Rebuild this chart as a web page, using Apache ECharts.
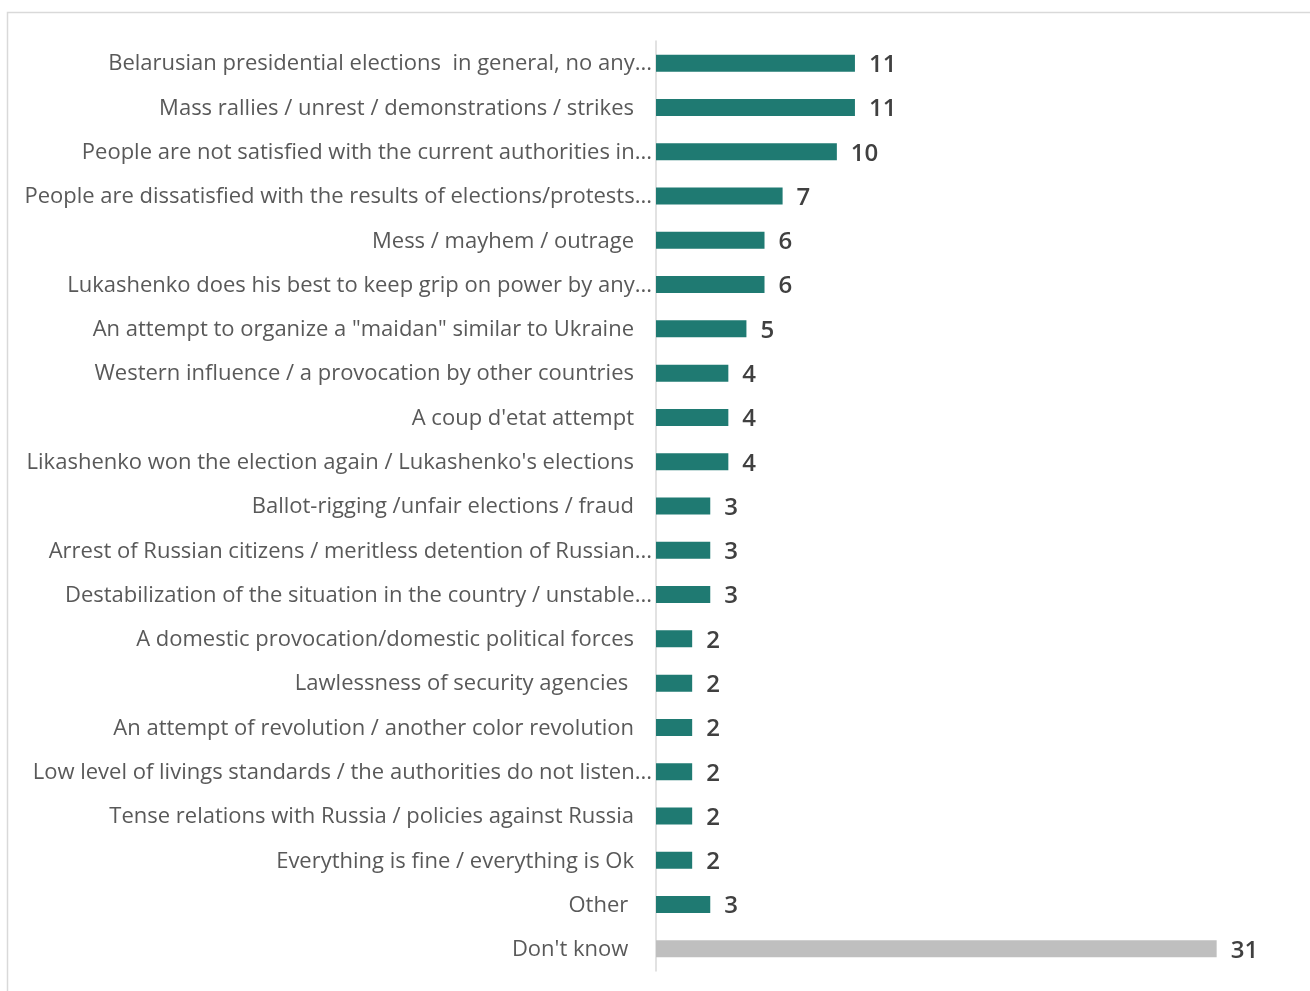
<!DOCTYPE html>
<html>
<head>
<meta charset="utf-8">
<script src="https://cdn.jsdelivr.net/npm/echarts@6/dist/echarts.min.js"></script>
<style>
  html, body { margin: 0; padding: 0; background: #fff; }
  #chart { width: 1310px; height: 991px; }
</style>
</head>
<body>
<div id="chart"></div>
<script>
// Answers, top to bottom (long answers are shortened with "...")
const categories = [
  "Belarusian presidential elections  in general, no any...",
  "Mass rallies / unrest / demonstrations / strikes",
  "People are not satisfied with the current authorities in...",
  "People are dissatisfied with the results of elections/protests...",
  "Mess / mayhem / outrage",
  "Lukashenko does his best to keep grip on power by any...",
  "An attempt to organize a \"maidan\" similar to Ukraine",
  "Western influence / a provocation by other countries",
  "A coup d'etat attempt",
  "Likashenko won the election again / Lukashenko's elections",
  "Ballot-rigging /unfair elections / fraud",
  "Arrest of Russian citizens / meritless detention of Russian...",
  "Destabilization of the situation in the country / unstable...",
  "A domestic provocation/domestic political forces",
  "Lawlessness of security agencies ",
  "An attempt of revolution / another color revolution",
  "Low level of livings standards / the authorities do not listen...",
  "Tense relations with Russia / policies against Russia",
  "Everything is fine / everything is Ok",
  "Other ",
  "Don't know "
];
const values = [11, 11, 10, 7, 6, 6, 5, 4, 4, 4, 3, 3, 3, 2, 2, 2, 2, 2, 2, 3, 31];
const highlightCategory = "Don't know ";

const TEAL = '#1F7A72';
const GREY = '#BFBFBF';
const FONT = '"Open Sans", "Liberation Sans", Arial, sans-serif';

const chart = echarts.init(document.getElementById('chart'), null, { renderer: 'canvas' });

chart.setOption({
  animation: false,
  backgroundColor: '#fff',
  graphic: [{
    type: 'rect',
    shape: { x: 7.5, y: 12.5, width: 1320, height: 1000 },
    style: { fill: 'none', stroke: '#D9D9D9', lineWidth: 1.5 },
    silent: true
  }],
  grid: { left: 656, right: 21, top: 41, bottom: 20, containLabel: false },
  xAxis: {
    type: 'value',
    min: 0,
    max: 35,
    show: false
  },
  yAxis: {
    type: 'category',
    data: categories,
    inverse: true,
    axisLine: { show: true, lineStyle: { color: '#D9D9D9', width: 1.5 } },
    axisTick: { show: false },
    axisLabel: {
      margin: 4,
      fontFamily: FONT,
      fontSize: 22,
      color: '#595959',
      formatter: function (v) {
        return v.endsWith('...') ? '{t|' + v + '}' : '{f|' + v + '}';
      },
      rich: {
        t: { fontFamily: FONT, fontSize: 22, color: '#595959', padding: [2, 0, 0, 0] },
        f: { fontFamily: FONT, fontSize: 22, color: '#595959', padding: [2, 18, 0, 0] }
      }
    }
  },
  series: [{
    type: 'bar',
    barWidth: 17,
    data: values.map(function (v, i) {
      return {
        value: v,
        itemStyle: { color: categories[i] === highlightCategory ? GREY : TEAL }
      };
    }),
    label: {
      show: true,
      position: 'right',
      distance: 14,
      offset: [0, 2],
      fontFamily: FONT,
      fontSize: 24,
      fontWeight: 600,
      color: '#404040'
    }
  }]
});
</script>
</body>
</html>
